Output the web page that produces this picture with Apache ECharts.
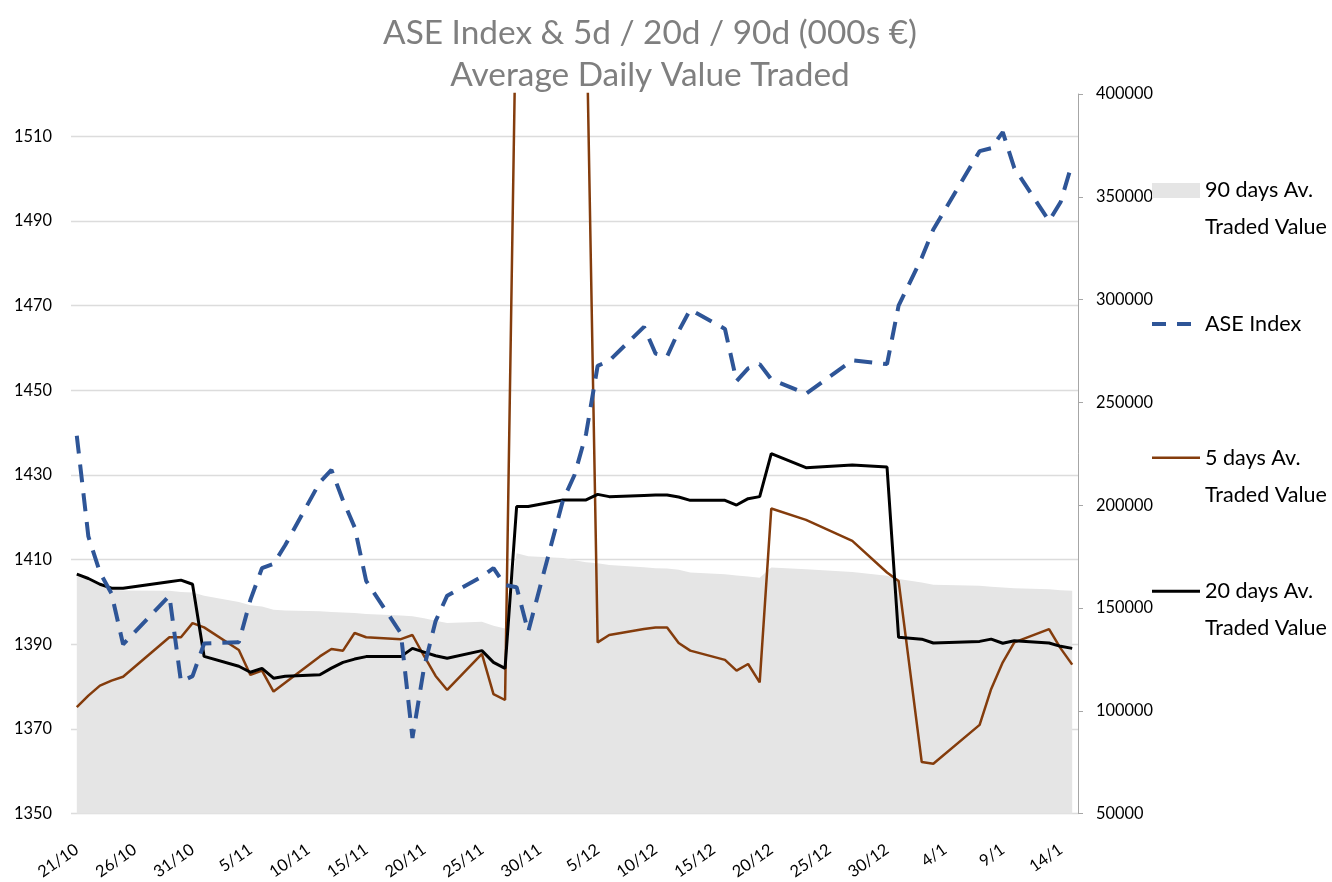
<!DOCTYPE html>
<html>
<head>
<meta charset="utf-8">
<script src="https://cdn.jsdelivr.net/npm/echarts@6/dist/echarts.min.js"></script>
<style>html,body{margin:0;padding:0;background:#fff}#c{width:1332px;height:882px}</style>
</head>
<body>
<div id="c"></div>
<script>
// Trading days shown (d/M)
const tradingDays = ['21/10','22/10','23/10','24/10','25/10','29/10','30/10','31/10','1/11',
  '4/11','5/11','6/11','7/11','8/11','11/11','12/11','13/11','14/11','15/11',
  '18/11','19/11','20/11','21/11','22/11','25/11','26/11','27/11','28/11','29/11',
  '2/12','3/12','4/12','5/12','6/12','9/12','10/12','11/12','12/12','13/12',
  '16/12','17/12','18/12','19/12','20/12','23/12','27/12','30/12','31/12',
  '2/1','3/1','7/1','8/1','9/1','10/1','13/1','14/1','15/1'];

const aseIndex = [1439.3,1415.5,1407,1402,1390,1401.5,1381.2,1382.5,1390.2,
  1390.5,1400.5,1408,1409,1413.4,1428.3,1431.2,1424,1417.7,1405,
  1392.6,1367.9,1384.5,1395.5,1401.5,1406,1408,1404,1403.5,1393,
  1424,1430,1439.7,1455.8,1457,1465,1458.7,1458,1464,1469.1,
  1464.5,1452.2,1455.2,1456.2,1452.6,1449.2,1457.1,1456.2,1470,
  1481.3,1488,1506.5,1507.2,1511,1502.5,1490,1494.5,1503.7];

const avg5d = [101800,107400,112300,114700,116600,135800,135800,142700,140600,
  129600,117500,119600,109400,113700,126500,130100,129300,137900,135800,
  134900,136900,126700,117000,110200,127700,108200,105300,462000,458000,
  455000,452000,449000,133300,136900,139800,140600,140600,133000,129300,
  124800,119600,122800,113900,198400,192900,182700,167300,163200,
  75100,74300,93200,110700,123600,133300,139800,130400,122500];

const avg20d = [166500,164400,161600,159700,159600,162800,163600,161600,126500,
  121700,118800,120700,115900,116800,117600,120800,123600,125200,126400,
  126400,130400,128600,126800,125600,129300,123600,120700,199400,199400,
  202600,202600,202600,205300,204200,204800,205000,205000,204000,202400,
  202400,200100,203200,204200,225100,218300,219600,218600,135800,
  134900,133000,133800,134900,132900,134100,133000,131400,130400];

const avg90d = [165500,163600,161200,159200,158500,158400,157800,157600,156000,
  152900,151400,150800,149200,148800,148400,148100,147800,147600,147100,
  146400,146000,145100,143800,142700,143300,141400,140100,176700,175200,
  174300,173300,172300,171800,171000,169900,169400,169200,168700,167300,
  166500,165800,165300,164800,169700,168900,167600,165700,164100,
  162500,161300,160800,160400,160000,159700,159200,158700,158400];

const titleLines = ['ASE Index & 5d / 20d / 90d (000s €)', 'Average Daily Value Traded'];
const seriesNames = ['90 days Av. Traded Value','ASE Index','5 days Av. Traded Value','20 days Av. Traded Value'];
const legendLabels = [' \n90 days Av.\nTraded Value',' \nASE Index\n ',' \n5 days Av.\nTraded Value',' \n20 days Av.\nTraded Value'];

// calendar categories (every day, Oct 21 -> Jan 15)
const calendar = [];
for (let t = Date.UTC(2019,9,21); t <= Date.UTC(2020,0,15); t += 86400000) {
  const d = new Date(t);
  calendar.push(d.getUTCDate() + '/' + (d.getUTCMonth()+1));
}
function onCalendar(values) {
  const map = {};
  tradingDays.forEach((k,i) => { map[k] = values[i]; });
  return calendar.map(k => (k in map ? map[k] : null));
}

const FONT = 'Lato';
// font size so that a sample text has a given pixel width
function fitSize(text, family, width) {
  const ctx = document.createElement('canvas').getContext('2d');
  ctx.font = '100px ' + family;
  return 100 * width / ctx.measureText(text).width;
}
const titleSize = fitSize(titleLines[0], FONT, 534);
const tickSize = fitSize('1510', FONT, 38);
const legendSize = fitSize('Traded Value', FONT, 122);

const chart = echarts.init(document.getElementById('c'), null, {renderer:'canvas'});
const noSym = {color: 'rgba(0,0,0,0)', borderWidth: 0, borderColor: 'rgba(0,0,0,0)'};
chart.setOption({
  animation: false,
  backgroundColor: '#ffffff',
  title: {
    text: titleLines.join('\n'),
    left: 650, top: 12, textAlign: 'center', padding: 0,
    textStyle: {fontFamily: FONT, fontSize: titleSize, fontWeight: 'normal', color: '#7f7f7f', lineHeight: 42}
  },
  legend: {
    orient: 'vertical', left: 1150, top: 135, padding: 0, itemGap: 22.6,
    itemWidth: 48, itemHeight: 15, selectedMode: false,
    textStyle: {fontFamily: FONT, fontSize: legendSize, color: '#000', lineHeight: 37},
    formatter: name => legendLabels[seriesNames.indexOf(name)],
    data: [
      {name: seriesNames[0], icon: 'rect', itemStyle: {color: '#e5e5e5', borderWidth: 0}},
      {name: seriesNames[1], itemStyle: noSym, lineStyle: {color: '#2e5597', width: 4, type: [14, 11]}},
      {name: seriesNames[2], itemStyle: noSym, lineStyle: {color: '#843c0c', width: 2.5, type: 'solid'}},
      {name: seriesNames[3], itemStyle: noSym, lineStyle: {color: '#000000', width: 3, type: 'solid'}}
    ]
  },
  grid: {left: 71, right: 254, top: 94, bottom: 67},
  xAxis: {
    type: 'category', data: calendar, boundaryGap: true,
    axisLine: {show: false}, axisTick: {show: false},
    axisLabel: {interval: 4, rotate: 35, margin: 34, fontFamily: FONT, fontSize: tickSize, color: '#000'}
  },
  yAxis: [
    {
      type: 'value', position: 'left', min: 1350, max: 1520, interval: 20,
      axisLine: {show: false}, axisTick: {show: false},
      axisLabel: {margin: 19, fontFamily: FONT, fontSize: tickSize, color: '#000', showMaxLabel: false,
        formatter: v => String(v)},
      splitLine: {show: true, showMaxLine: false, lineStyle: {color: '#dcdcdc', width: 1.3}}
    },
    {
      type: 'value', position: 'right', min: 50000, max: 400000, interval: 50000,
      axisLine: {show: true, lineStyle: {color: '#a6a6a6', width: 1}},
      axisTick: {show: true, length: 5, lineStyle: {color: '#a6a6a6'}},
      axisLabel: {margin: 18, fontFamily: FONT, fontSize: tickSize, color: '#000', formatter: v => String(v)},
      splitLine: {show: false}
    }
  ],
  series: [
    {
      name: seriesNames[0], type: 'line', yAxisIndex: 1, data: onCalendar(avg90d),
      connectNulls: true, symbol: 'none', z: 1,
      lineStyle: {width: 0, color: '#e5e5e5'}, itemStyle: {color: '#e5e5e5'},
      areaStyle: {color: '#e5e5e5', opacity: 1}
    },
    {
      name: seriesNames[1], type: 'line', yAxisIndex: 0, data: onCalendar(aseIndex),
      connectNulls: true, symbol: 'none', z: 3,
      itemStyle: {color: '#2e5597'},
      lineStyle: {color: '#2e5597', width: 4, type: [18, 11]}
    },
    {
      name: seriesNames[2], type: 'line', yAxisIndex: 1, data: onCalendar(avg5d),
      connectNulls: true, symbol: 'none', z: 2,
      itemStyle: {color: '#843c0c'},
      lineStyle: {color: '#843c0c', width: 2.5}
    },
    {
      name: seriesNames[3], type: 'line', yAxisIndex: 1, data: onCalendar(avg20d),
      connectNulls: true, symbol: 'none', z: 2,
      itemStyle: {color: '#000000'},
      lineStyle: {color: '#000000', width: 3}
    }
  ]
});
</script>
</body>
</html>
